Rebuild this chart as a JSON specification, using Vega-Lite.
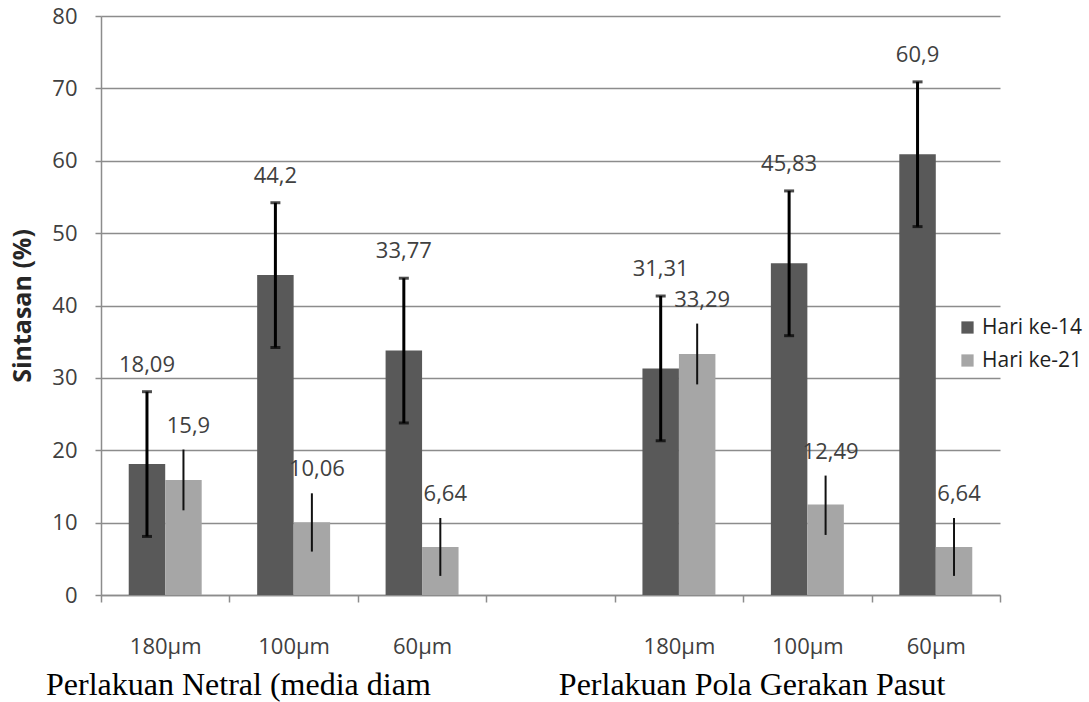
{
  "$schema": "https://vega.github.io/schema/vega-lite/v6.json",
  "width": 899,
  "height": 579,
  "autosize": {"type": "none"},
  "padding": {"left": 101, "top": 16, "right": 89, "bottom": 107},
  "background": "white",
  "config": {
    "view": {"stroke": null},
    "locale": {"number": {"decimal": ",", "thousands": ".", "grouping": [3], "currency": ["", ""]}},
    "axis": {
      "labelFont": "Open Sans",
      "labelFontSize": 22,
      "labelColor": "#404040",
      "domainColor": "#8c8c8c",
      "domainWidth": 1.5,
      "tickColor": "#8c8c8c",
      "tickWidth": 1.5,
      "gridColor": "#8c8c8c",
      "gridWidth": 1.5
    },
    "text": {"font": "Open Sans", "fontSize": 22, "color": "#404040"}
  },
  "datasets": {
    "sintasan": [
      {"cat": "N-180", "hari": "Hari ke-14", "v": 18.09, "lo": 8.09, "hi": 28.09},
      {"cat": "N-180", "hari": "Hari ke-21", "v": 15.9, "lo": 11.7, "hi": 20.1},
      {"cat": "N-100", "hari": "Hari ke-14", "v": 44.2, "lo": 34.2, "hi": 54.2},
      {"cat": "N-100", "hari": "Hari ke-21", "v": 10.06, "lo": 6.0, "hi": 14.05},
      {"cat": "N-60", "hari": "Hari ke-14", "v": 33.77, "lo": 23.77, "hi": 43.77},
      {"cat": "N-60", "hari": "Hari ke-21", "v": 6.64, "lo": 2.64, "hi": 10.64},
      {"cat": "P-180", "hari": "Hari ke-14", "v": 31.31, "lo": 21.31, "hi": 41.31},
      {"cat": "P-180", "hari": "Hari ke-21", "v": 33.29, "lo": 29.1, "hi": 37.5},
      {"cat": "P-100", "hari": "Hari ke-14", "v": 45.83, "lo": 35.83, "hi": 55.83},
      {"cat": "P-100", "hari": "Hari ke-21", "v": 12.49, "lo": 8.3, "hi": 16.5},
      {"cat": "P-60", "hari": "Hari ke-14", "v": 60.9, "lo": 50.9, "hi": 70.9},
      {"cat": "P-60", "hari": "Hari ke-21", "v": 6.64, "lo": 2.64, "hi": 10.64}
    ],
    "groups": [
      {"anchor": "N-180", "name": "Perlakuan Netral (media diam"},
      {"anchor": "P-180", "name": "Perlakuan Pola Gerakan Pasut"}
    ]
  },
  "layer": [
    {
      "data": {"name": "sintasan"},
      "mark": {"type": "bar"},
      "encoding": {
        "x": {
          "field": "cat",
          "type": "nominal",
          "scale": {
            "domain": ["N-180", "N-100", "N-60", "gap", "P-180", "P-100", "P-60"],
            "paddingInner": 0,
            "paddingOuter": 0
          },
          "axis": {
            "title": null,
            "labelAngle": 0,
            "labelExpr": "isString(datum.value) && datum.value != 'gap' ? split(datum.value, '-')[1] + 'µm' : ''",
            "tickBand": "extent",
            "tickSize": 7,
            "labelPadding": 34,
            "grid": false
          }
        },
        "xOffset": {
          "field": "hari",
          "type": "nominal",
          "scale": {"domain": ["Hari ke-14", "Hari ke-21"], "paddingInner": 0, "paddingOuter": 0.76}
        },
        "y": {
          "field": "v",
          "type": "quantitative",
          "scale": {"domain": [0, 80], "nice": false},
          "axis": {
            "title": "Sintasan (%)",
            "titleFont": "Open Sans",
            "titleFontSize": 25,
            "titleFontWeight": "bold",
            "titleColor": "#262626",
            "titlePadding": 16,
            "values": [0, 10, 20, 30, 40, 50, 60, 70, 80],
            "tickSize": 6,
            "labelPadding": 18,
            "grid": true
          }
        },
        "color": {
          "field": "hari",
          "type": "nominal",
          "scale": {"domain": ["Hari ke-14", "Hari ke-21"], "range": ["#595959", "#a6a6a6"]},
          "legend": {
            "title": null,
            "orient": "none",
            "legendX": 856,
            "legendY": 301,
            "symbolType": "square",
            "symbolSize": 150,
            "symbolStrokeWidth": 0,
            "labelFont": "Open Sans",
            "labelFontSize": 21,
            "labelColor": "#1f1f1f",
            "labelOffset": 4,
            "rowPadding": 11
          }
        }
      }
    },
    {
      "data": {"name": "sintasan"},
      "transform": [{"filter": "datum.hari == 'Hari ke-14'"}],
      "mark": {"type": "rule", "color": "#000000", "strokeWidth": 3},
      "encoding": {
        "x": {"field": "cat", "type": "nominal"},
        "xOffset": {"field": "hari", "type": "nominal"},
        "y": {"field": "lo", "type": "quantitative"},
        "y2": {"field": "hi"}
      }
    },
    {
      "data": {"name": "sintasan"},
      "transform": [{"filter": "datum.hari == 'Hari ke-14'"}],
      "mark": {"type": "tick", "color": "#000000", "size": 10, "thickness": 3},
      "encoding": {
        "x": {"field": "cat", "type": "nominal"},
        "xOffset": {"field": "hari", "type": "nominal"},
        "y": {"field": "lo", "type": "quantitative"}
      }
    },
    {
      "data": {"name": "sintasan"},
      "transform": [{"filter": "datum.hari == 'Hari ke-14'"}],
      "mark": {"type": "tick", "color": "#000000", "size": 10, "thickness": 3},
      "encoding": {
        "x": {"field": "cat", "type": "nominal"},
        "xOffset": {"field": "hari", "type": "nominal"},
        "y": {"field": "hi", "type": "quantitative"}
      }
    },
    {
      "data": {"name": "sintasan"},
      "transform": [{"filter": "datum.hari == 'Hari ke-21'"}],
      "mark": {"type": "rule", "color": "#111111", "strokeWidth": 2},
      "encoding": {
        "x": {"field": "cat", "type": "nominal"},
        "xOffset": {"field": "hari", "type": "nominal"},
        "y": {"field": "lo", "type": "quantitative"},
        "y2": {"field": "hi"}
      }
    },
    {
      "data": {"name": "sintasan"},
      "transform": [{"filter": "datum.hari == 'Hari ke-14'"}],
      "mark": {"type": "text", "baseline": "alphabetic", "dy": -20},
      "encoding": {
        "x": {"field": "cat", "type": "nominal"},
        "xOffset": {"field": "hari", "type": "nominal"},
        "y": {"field": "hi", "type": "quantitative"},
        "text": {"field": "v", "type": "quantitative", "format": "~f"}
      }
    },
    {
      "data": {"name": "sintasan"},
      "transform": [{"filter": "datum.hari == 'Hari ke-21'"}],
      "mark": {"type": "text", "baseline": "alphabetic", "dy": -17, "dx": 5},
      "encoding": {
        "x": {"field": "cat", "type": "nominal"},
        "xOffset": {"field": "hari", "type": "nominal"},
        "y": {"field": "hi", "type": "quantitative"},
        "text": {"field": "v", "type": "quantitative", "format": "~f"}
      }
    },
    {
      "data": {"name": "groups"},
      "mark": {
        "type": "text",
        "font": "Liberation Serif",
        "fontSize": 32,
        "color": "#000000",
        "align": "center",
        "baseline": "alphabetic",
        "dy": 100
      },
      "encoding": {
        "x": {"field": "anchor", "type": "nominal", "bandPosition": 1.07},
        "y": {"datum": 0, "type": "quantitative"},
        "text": {"field": "name"}
      }
    }
  ]
}
